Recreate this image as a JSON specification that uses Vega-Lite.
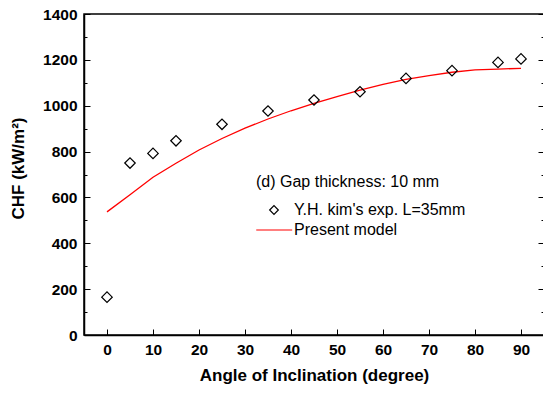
{
  "$schema": "https://vega.github.io/schema/vega-lite/v6.json",
  "width": 460,
  "height": 321,
  "autosize": "none",
  "padding": {"left": 84, "top": 14, "right": 0, "bottom": 59},
  "background": "white",
  "config": {
    "view": {"stroke": "black", "strokeWidth": 1.5},
    "font": "Liberation Sans",
    "axis": {
      "labelFont": "Liberation Sans",
      "labelFontWeight": "bold",
      "labelFontSize": 15.5,
      "labelColor": "black",
      "titleFont": "Liberation Sans",
      "titleFontWeight": "bold",
      "titleFontSize": 17,
      "titleColor": "black",
      "domainColor": "black",
      "domainWidth": 1.5,
      "tickColor": "black",
      "tickWidth": 1,
      "grid": false,
      "format": "d"
    }
  },
  "datasets": {
    "exp": [
      {"angle": 0, "chf": 165, "series": "Y.H. kim's exp. L=35mm"},
      {"angle": 5, "chf": 750, "series": "Y.H. kim's exp. L=35mm"},
      {"angle": 10, "chf": 792, "series": "Y.H. kim's exp. L=35mm"},
      {"angle": 15, "chf": 847, "series": "Y.H. kim's exp. L=35mm"},
      {"angle": 25, "chf": 919, "series": "Y.H. kim's exp. L=35mm"},
      {"angle": 35, "chf": 977, "series": "Y.H. kim's exp. L=35mm"},
      {"angle": 45, "chf": 1025, "series": "Y.H. kim's exp. L=35mm"},
      {"angle": 55, "chf": 1061, "series": "Y.H. kim's exp. L=35mm"},
      {"angle": 65, "chf": 1119, "series": "Y.H. kim's exp. L=35mm"},
      {"angle": 75, "chf": 1153, "series": "Y.H. kim's exp. L=35mm"},
      {"angle": 85, "chf": 1189, "series": "Y.H. kim's exp. L=35mm"},
      {"angle": 90, "chf": 1204, "series": "Y.H. kim's exp. L=35mm"}
    ],
    "model": [
      {"angle": 0, "chf": 537},
      {"angle": 5, "chf": 612},
      {"angle": 10, "chf": 688},
      {"angle": 15, "chf": 749},
      {"angle": 20, "chf": 807},
      {"angle": 25, "chf": 857},
      {"angle": 30, "chf": 902},
      {"angle": 35, "chf": 942},
      {"angle": 40, "chf": 978},
      {"angle": 45, "chf": 1010},
      {"angle": 50, "chf": 1040},
      {"angle": 55, "chf": 1068},
      {"angle": 60, "chf": 1093},
      {"angle": 65, "chf": 1115},
      {"angle": 70, "chf": 1131},
      {"angle": 75, "chf": 1146},
      {"angle": 80, "chf": 1156},
      {"angle": 85, "chf": 1160},
      {"angle": 90, "chf": 1163}
    ]
  },
  "layer": [
    {
      "data": {"name": "model"},
      "mark": {"type": "line", "color": "#ff0000", "strokeWidth": 1.3},
      "encoding": {
        "x": {
          "field": "angle", "type": "quantitative",
          "scale": {"domain": [-5, 95], "nice": false, "zero": false},
          "axis": {
            "title": "Angle of Inclination (degree)",
            "values": [0, 10, 20, 30, 40, 50, 60, 70, 80, 90],
            "tickSize": -6,
            "labelPadding": 13,
            "titlePadding": 10
          }
        },
        "y": {
          "field": "chf", "type": "quantitative",
          "scale": {"domain": [0, 1400], "nice": false},
          "axis": {
            "title": "CHF (kW/m²)",
            "values": [0, 100, 200, 300, 400, 500, 600, 700, 800, 900, 1000, 1100, 1200, 1300, 1400],
            "labelExpr": "datum.value % 200 === 0 ? datum.label : ''",
            "tickSize": {"condition": {"test": "datum.value % 200 === 0", "value": -6}, "value": -3},
            "labelPadding": 13,
            "titlePadding": 15,
            "titleY": 154
          }
        }
      }
    },
    {
      "data": {"name": "exp"},
      "mark": {"type": "point", "filled": false, "strokeWidth": 1.2, "opacity": 1},
      "encoding": {
        "x": {"field": "angle", "type": "quantitative"},
        "y": {
          "field": "chf", "type": "quantitative",
          "axis": {
            "orient": "right",
            "title": null,
            "labels": false,
            "domain": false,
            "values": [0, 100, 200, 300, 400, 500, 600, 700, 800, 900, 1000, 1100, 1200, 1300, 1400],
            "tickSize": {"condition": {"test": "datum.value % 200 === 0", "value": -6}, "value": -3}
          }
        },
        "shape": {
          "field": "series", "type": "nominal",
          "scale": {"domain": ["Y.H. kim's exp. L=35mm", "Present model"], "range": ["diamond", "M-4.1,0H4.2"]},
          "legend": {
            "orient": "none",
            "legendX": 172,
            "legendY": 160,
            "title": "(d) Gap thickness: 10 mm",
            "titleFont": "Liberation Sans",
            "titleFontSize": 16,
            "titleFontWeight": "normal",
            "titleColor": "black",
            "titlePadding": 12,
            "titleLimit": 400,
            "labelFont": "Liberation Sans",
            "labelFontSize": 16,
            "labelColor": "black",
            "labelLimit": 400,
            "labelOffset": 12,
            "symbolOffset": 10,
            "symbolSize": 75,
            "symbolStrokeWidth": 1.2,
            "rowPadding": 4,
            "padding": 0
          }
        },
        "color": {
          "field": "series", "type": "nominal",
          "scale": {"domain": ["Y.H. kim's exp. L=35mm", "Present model"], "range": ["black", "#ff0000"]}
        },
        "size": {"value": 110}
      }
    }
  ],
  "resolve": {"axis": {"y": "independent"}}
}
